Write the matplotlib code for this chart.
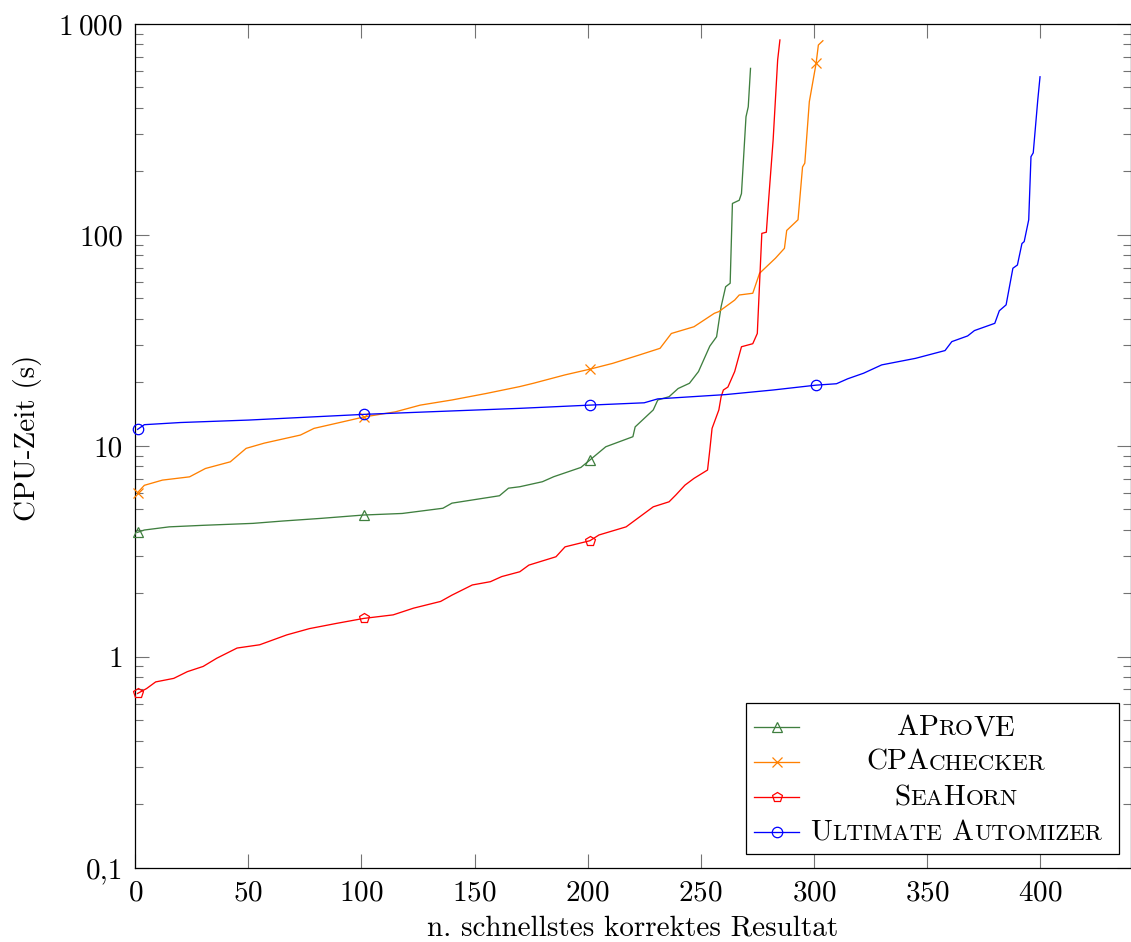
import matplotlib
matplotlib.use('Agg')
import matplotlib.pyplot as plt
from matplotlib.lines import Line2D
from matplotlib.patches import Rectangle
from matplotlib.ticker import FixedLocator, FixedFormatter, LogLocator, NullFormatter

plt.rcParams['font.family'] = ['cmr10', 'DejaVu Serif']
plt.rcParams['mathtext.fontset'] = 'cm'
plt.rcParams['axes.formatter.use_mathtext'] = True

# n-th fastest correct result (rank) and CPU time in seconds
aprove_n = [1, 4, 15, 30, 52, 65, 82, 101, 118, 136, 140, 161, 165, 170, 180, 185, 197, 201,
            208, 220, 221, 229, 231, 236, 240, 245, 249, 254, 257, 259, 261, 263, 264, 267,
            268, 270, 271, 272]
aprove_t = [3.89, 3.99, 4.13, 4.2, 4.29, 4.4, 4.53, 4.70, 4.78, 5.06, 5.35, 5.8, 6.3, 6.4,
            6.76, 7.14, 7.9, 8.57, 9.9, 11.05, 12.3, 14.8, 16.5, 17.1, 18.7, 19.8, 22.5,
            29.7, 32.9, 45.7, 56.8, 59, 141, 146, 157, 363, 405, 616]

cpa_n = [1, 4, 12, 24, 31, 42, 49, 57, 73, 79, 89, 101, 115, 126, 140, 155, 170, 176, 190,
         201, 211, 223, 232, 237, 247, 256, 258, 265, 267, 273, 276, 283, 287, 288, 293, 295,
         296, 298, 301, 302, 304]
cpa_t = [6.0, 6.5, 6.88, 7.13, 7.81, 8.4, 9.73, 10.3, 11.25, 12.1, 12.8, 13.7, 14.5, 15.6,
         16.5, 17.7, 19.1, 19.8, 21.7, 23.1, 24.6, 27.0, 29.0, 34.1, 36.7, 42.5, 43.3, 49.1,
         51.9, 52.9, 65.8, 77.5, 86.4, 105, 118, 210, 219, 428, 651, 795, 833]

sea_n = [1, 5, 9, 17, 23, 30, 36, 45, 55, 67, 77, 89, 101, 114, 123, 135, 140, 149, 157,
         162, 170, 174, 186, 190, 201, 205, 217, 229, 236, 239, 243, 247, 253, 254, 255, 258,
         259, 260, 262, 265, 268, 273, 275, 277, 279, 280, 282, 284, 285]
sea_t = [0.67, 0.707, 0.76, 0.79, 0.85, 0.90, 0.984, 1.10, 1.14, 1.27, 1.36, 1.44, 1.52,
         1.58, 1.70, 1.83, 1.96, 2.19, 2.27, 2.40, 2.53, 2.72, 2.98, 3.32, 3.55, 3.78, 4.13,
         5.14, 5.43, 5.85, 6.51, 7.01, 7.68, 9.55, 12.1, 14.8, 17.1, 18.4, 19.0, 22.5, 29.5,
         30.5, 34.1, 101.7, 103, 146, 282, 675, 840]

ua_n = [1, 4, 20, 50, 101, 130, 170, 201, 225, 231, 261, 282, 301, 310, 315, 322, 330, 345,
        358, 361, 368, 371, 380, 382, 385, 388, 390, 392, 393, 395, 396, 397, 399, 400]
ua_t = [11.97, 12.6, 12.9, 13.25, 14.1, 14.5, 15.06, 15.6, 16.0, 16.7, 17.5, 18.4, 19.4,
        19.7, 20.8, 22.1, 24.2, 26.0, 28.3, 31.2, 33.2, 35.2, 38.1, 43.7, 46.6, 69.5, 72,
        91, 93, 118, 235, 245, 436, 562]

# legend labels, split into (text, is_small_cap) pieces to mimic \textsc
aprove_label = [("A", False), ("P", False), ("RO", True), ("VE", False)]
cpa_label = [("CPA", False), ("CHECKER", True)]
sea_label = [("S", False), ("EA", True), ("H", False), ("ORN", True)]
ua_label = [("U", False), ("LTIMATE", True), (" ", None), ("A", False), ("UTOMIZER", True)]

x_ticks = [0, 50, 100, 150, 200, 250, 300, 350, 400]
y_ticks = [0.1, 1, 10, 100, 1000]
y_tick_labels = ["0,1", "1", "10", "100", r"$1\:000$"]

W, H = 1131, 942
FS = 21
SC = 0.79
green = '#3f7f3f'
orange = '#ff8000'

series = [
    (aprove_n, aprove_t, green, '^', 7.5, aprove_label),
    (cpa_n, cpa_t, orange, 'x', 6.5, cpa_label),
    (sea_n, sea_t, '#ff0000', 'p', 7.5, sea_label),
    (ua_n, ua_t, '#0000ff', 'o', 7.5, ua_label),
]

fig = plt.figure(figsize=(W / 100, H / 100), dpi=100)
ax = fig.add_axes([135.3 / W, 1 - 867.7 / H, (1130.5 - 135.3) / W, (867.7 - 24) / H])

for n, t, col, mk, ms, _ in series:
    marks = [i for i, v in enumerate(n) if v in (1, 101, 201, 301)]
    ax.plot(n, t, color=col, lw=0.95, marker=mk, ms=ms, mfc='none', mec=col, mew=0.9,
            markevery=marks, clip_on=False, zorder=3)

ax.set_yscale('log')
ax.set_xlim(0, 440)
ax.set_ylim(0.1, 1000)
ax.xaxis.set_major_locator(FixedLocator(x_ticks))
ax.yaxis.set_major_locator(FixedLocator(y_ticks))
ax.yaxis.set_major_formatter(FixedFormatter(y_tick_labels))
ax.yaxis.set_minor_locator(LogLocator(base=10, subs=range(2, 10)))
ax.yaxis.set_minor_formatter(NullFormatter())
ax.tick_params(which='both', direction='in', top=True, right=True, color='0.45',
               width=0.8, labelsize=FS, pad=9)
ax.tick_params(which='major', length=10)
ax.tick_params(which='minor', length=6)
for s in ax.spines.values():
    s.set_linewidth(0.9)

ax.set_xlabel("n. schnellstes korrektes Resultat", fontsize=FS, va='center')
ax.xaxis.set_label_coords(0.5, (867.7 - 928) / 843.7)
ax.set_ylabel("CPU-Zeit (s)", fontsize=FS, va='center', ha='center')
ax.yaxis.set_label_coords((28 - 135.3) / 994.7, (867.7 - 438) / 843.7)

# legend box drawn by hand so the labels can use small caps
fig.add_artist(Rectangle((746 / W, 1 - 854 / H), 373 / W, 151 / H, transform=fig.transFigure,
                         fill=False, edgecolor='black', lw=0.9, zorder=5))
renderer = fig.canvas.get_renderer()
for i, (n, t, col, mk, ms, label) in enumerate(series):
    base = 735 + 35 * i
    hy = 1 - (base - 8) / H
    fig.add_artist(Line2D([754 / W, 799 / W], [hy, hy], color=col, lw=0.95, zorder=6))
    fig.add_artist(Line2D([777 / W], [hy], marker=mk, ms=ms, mfc='none', mec=col, mew=0.9,
                          zorder=6))
    pieces = []
    total = 0.0
    for s, small in label:
        if small is None:
            pieces.append((None, 0.36 * FS * 100 / 72))
            total += pieces[-1][1]
            continue
        txt = fig.text(0, 0, s, fontsize=FS * SC if small else FS, va='baseline', ha='left')
        w = txt.get_window_extent(renderer).width
        pieces.append((txt, w))
        total += w
    x = 956 - total / 2
    for txt, w in pieces:
        if txt is not None:
            txt.set_position((x / W, 1 - base / H))
        x += w

fig.savefig('out.png', dpi=100)
